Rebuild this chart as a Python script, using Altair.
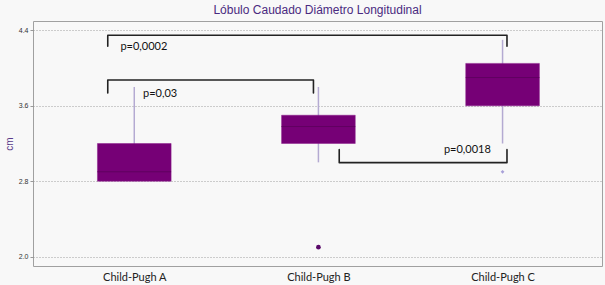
import altair as alt
import pandas as pd

# ---- data ----
groups = ["Child-Pugh A", "Child-Pugh B", "Child-Pugh C"]
group_pos = [0, 1, 2]
q1 = [2.8, 3.2, 3.6]
median = [2.9, 3.38, 3.9]
q3 = [3.2, 3.5, 4.05]
whisk_lo = [2.8, 3.0, 3.2]
whisk_hi = [3.8, 3.8, 4.3]

outlier_pos = [1, 2]
outlier_val = [2.1, 2.9]
outlier_kind = ["dark", "light"]

# significance brackets (annotation geometry in data units)
br_id = ["b1"] * 4 + ["b2"] * 4 + ["b3"] * 4
br_order = [0, 1, 2, 3] * 3
br_x = [-0.144, -0.144, 2.024, 2.024,
        -0.144, -0.144, 0.973, 0.973,
        1.113, 1.113, 2.024, 2.024]
br_y = [4.233, 4.349, 4.349, 4.233,
        3.737, 3.874, 3.874, 3.737,
        3.135, 2.997, 2.997, 3.135]

p_text = ["p=0,0002", "p=0,03", "p=0,0018"]
p_x = [0.052, 0.14, 1.809]
p_y = [4.222, 3.726, 3.135]

boxes = pd.DataFrame({"g": groups, "x": group_pos, "q1": q1, "med": median,
                      "q3": q3, "lo": whisk_lo, "hi": whisk_hi})
outs = pd.DataFrame({"x": outlier_pos, "v": outlier_val, "k": outlier_kind})
brackets = pd.DataFrame({"id": br_id, "o": br_order, "x": br_x, "y": br_y})
ptexts = pd.DataFrame({"t": p_text, "x": p_x, "y": p_y})

xscale = alt.Scale(domain=[-0.55, 2.54], nice=False, zero=False)
yscale = alt.Scale(domain=[1.9, 4.5], nice=False, zero=False)

label_expr = "datum.value == 0 ? 'Child-Pugh A' : datum.value == 1 ? 'Child-Pugh B' : 'Child-Pugh C'"

xaxis = alt.Axis(values=[0, 1, 2], labelExpr=label_expr, title=None, grid=False,
                 ticks=False, domain=False, labelFont="Lato", labelFontSize=11,
                 labelColor="#222222", labelPadding=5)
yaxis = alt.Axis(values=[2.0, 2.8, 3.6, 4.4], format=".1f", title="cm",
                 titleColor="#5a3a8a", titleFont="Liberation Sans", titleFontSize=10,
                 titleFontWeight="normal", titlePadding=4,
                 labelFont="Liberation Sans", labelFontSize=7, labelColor="#333333",
                 grid=True, gridColor="#888888", gridDash=[1, 2], gridWidth=0.8,
                 tickSize=3, tickColor="#999999", domain=False, labelPadding=2)

base = alt.Chart(boxes)

whiskers = base.mark_rule(color="#b4aad2", strokeWidth=1.5).encode(
    x=alt.X("x:Q", scale=xscale, axis=xaxis),
    y=alt.Y("lo:Q", scale=yscale, axis=yaxis),
    y2="hi:Q",
)

rects = base.transform_calculate(
    xl="datum.x - 0.2", xr="datum.x + 0.2"
).mark_rect(color="#760076", stroke="#8a1a8a", strokeWidth=0.5).encode(
    x="xl:Q", x2="xr:Q", y="q1:Q", y2="q3:Q"
)

medians = base.transform_calculate(
    xl="datum.x - 0.2", xr="datum.x + 0.2"
).mark_rule(color="#600060", strokeWidth=1).encode(
    x="xl:Q", x2="xr:Q", y="med:Q"
)

out_dark = alt.Chart(outs).transform_filter("datum.k == 'dark'").mark_point(
    filled=True, color="#5a0a6a", size=22, opacity=1
).encode(x="x:Q", y="v:Q")

out_light = alt.Chart(outs).transform_filter("datum.k == 'light'").mark_point(
    shape="diamond", filled=True, color="#a8a0d8", size=14, opacity=1
).encode(x="x:Q", y="v:Q")

br = alt.Chart(brackets).mark_line(
    color="#222222", strokeWidth=1.6, strokeJoin="round", strokeCap="round"
).encode(x="x:Q", y="y:Q", detail="id:N", order="o:Q")

txt = alt.Chart(ptexts).mark_text(
    font="Lato", fontSize=11, color="#111111", align="center", baseline="middle"
).encode(x="x:Q", y="y:Q", text="t:N")

chart = alt.layer(whiskers, rects, medians, out_dark, out_light, br, txt).properties(
    width=569, height=245,
    title=alt.TitleParams("Lóbulo Caudado Diámetro Longitudinal", font="Liberation Sans",
                          fontSize=12, fontWeight="normal", color="#4a2a80",
                          anchor="middle", offset=4),
    autosize=alt.AutoSizeParams(type="none"),
    padding={"left": 33, "top": 21, "right": 3, "bottom": 19},
    background="#f8f8f8",
).configure_view(stroke="#a0a0a0", strokeWidth=1, fill="#f8f8f8")

chart.save("out.html", embed_options={"renderer": "svg", "actions": False})
